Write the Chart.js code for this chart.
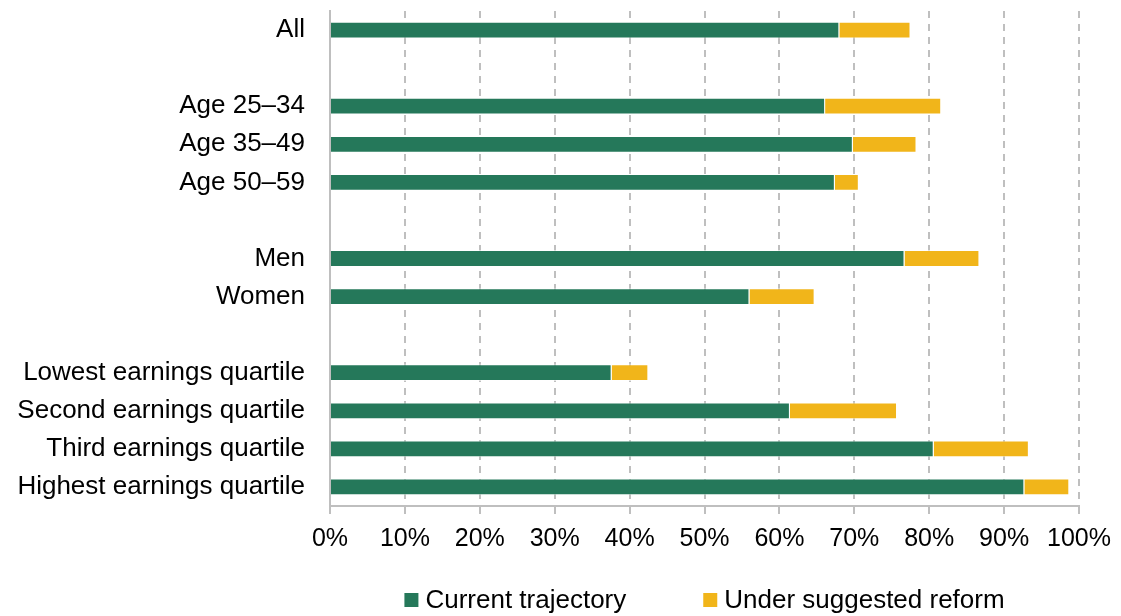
<!DOCTYPE html>
<html>
<head>
<meta charset="utf-8">
<script src="https://cdn.jsdelivr.net/npm/chart.js@4.4.1/dist/chart.umd.min.js"></script>
<style>
  html, body { margin: 0; padding: 0; background: #fff; }
  #wrap { width: 1121px; height: 616px; }
</style>
</head>
<body>
<div id="wrap"><canvas id="chart"></canvas></div>
<script>
const categories = ['All', '', 'Age 25\u201334', 'Age 35\u201349', 'Age 50\u201359', '', 'Men', 'Women', '',
  'Lowest earnings quartile', 'Second earnings quartile', 'Third earnings quartile', 'Highest earnings quartile'];
// share of people (%) on the current path
const currentTrajectory = [68.0, null, 66.1, 69.8, 67.4, null, 76.7, 56.0, null, 37.6, 61.4, 80.6, 92.7];
// extra share reached under the reform (stacked on top)
const reformExtra = [9.5, null, 15.5, 8.5, 3.2, null, 10.0, 8.7, null, 4.9, 14.3, 12.7, 6.0];
const xTicks = [0, 10, 20, 30, 40, 50, 60, 70, 80, 90, 100];

const GREEN = '#25785A';
const YELLOW = '#F1B51A';
const FONT = "'Liberation Sans', Arial, sans-serif";

// legend drawn under the plot, centred on the chart area
const bottomLegend = {
  id: 'bottomLegend',
  afterDraw(chart) {
    const ctx = chart.ctx;
    const area = chart.chartArea;
    const box = 14, gap = 7, spacing = 77;
    ctx.save();
    ctx.font = '26px ' + FONT;
    const items = chart.data.datasets.map(ds => ({
      text: ds.label, color: ds.backgroundColor, w: ctx.measureText(ds.label).width
    }));
    let total = 0;
    items.forEach((it, i) => { total += box + gap + it.w + (i ? spacing : 0); });
    let x = (area.left + area.right) / 2 - total / 2;
    const y = 600;
    ctx.textBaseline = 'middle';
    ctx.textAlign = 'left';
    items.forEach(it => {
      ctx.fillStyle = it.color;
      ctx.fillRect(x, y - box / 2, box, box);
      ctx.fillStyle = '#000';
      ctx.fillText(it.text, x + box + gap, y + 1);
      x += box + gap + it.w + spacing;
    });
    ctx.restore();
  }
};

new Chart(document.getElementById('chart'), {
  type: 'bar',
  data: {
    labels: categories,
    datasets: [
      { label: 'Current trajectory', data: currentTrajectory, backgroundColor: GREEN,
        borderColor: 'rgba(255,255,255,0.6)', borderWidth: 1, barPercentage: 0.44, categoryPercentage: 1 },
      { label: 'Under suggested reform', data: reformExtra, backgroundColor: YELLOW,
        borderColor: 'rgba(255,255,255,0.6)', borderWidth: 1, barPercentage: 0.44, categoryPercentage: 1 }
    ]
  },
  options: {
    indexAxis: 'y',
    responsive: true,
    maintainAspectRatio: false,
    animation: false,
    layout: { padding: { top: 11, right: 41, left: 0, bottom: 0 } },
    plugins: {
      legend: { display: false },
      tooltip: { enabled: false }
    },
    scales: {
      x: {
        stacked: true,
        min: 0, max: 100,
        afterBuildTicks: s => { s.ticks = xTicks.map(v => ({ value: v })); },
        afterFit: s => { s.height = 110; },
        grid: { color: '#BFBFBF', lineWidth: 2, tickLength: 8, tickColor: '#BFBFBF' },
        border: { color: '#BFBFBF', width: 2, dash: [7, 6] },
        ticks: {
          font: { family: FONT, size: 25 }, color: '#000', padding: 10,
          maxRotation: 0, callback: v => v + '%'
        }
      },
      y: {
        stacked: true,
        afterFit: s => { s.width = 330; s.paddingTop = 0; s.paddingBottom = 0; },
        grid: { display: false },
        border: { color: '#BFBFBF', width: 2 },
        ticks: { font: { family: FONT, size: 26 }, color: '#000', padding: 17, autoSkip: false }
      }
    }
  },
  plugins: [bottomLegend]
});
</script>
</body>
</html>
